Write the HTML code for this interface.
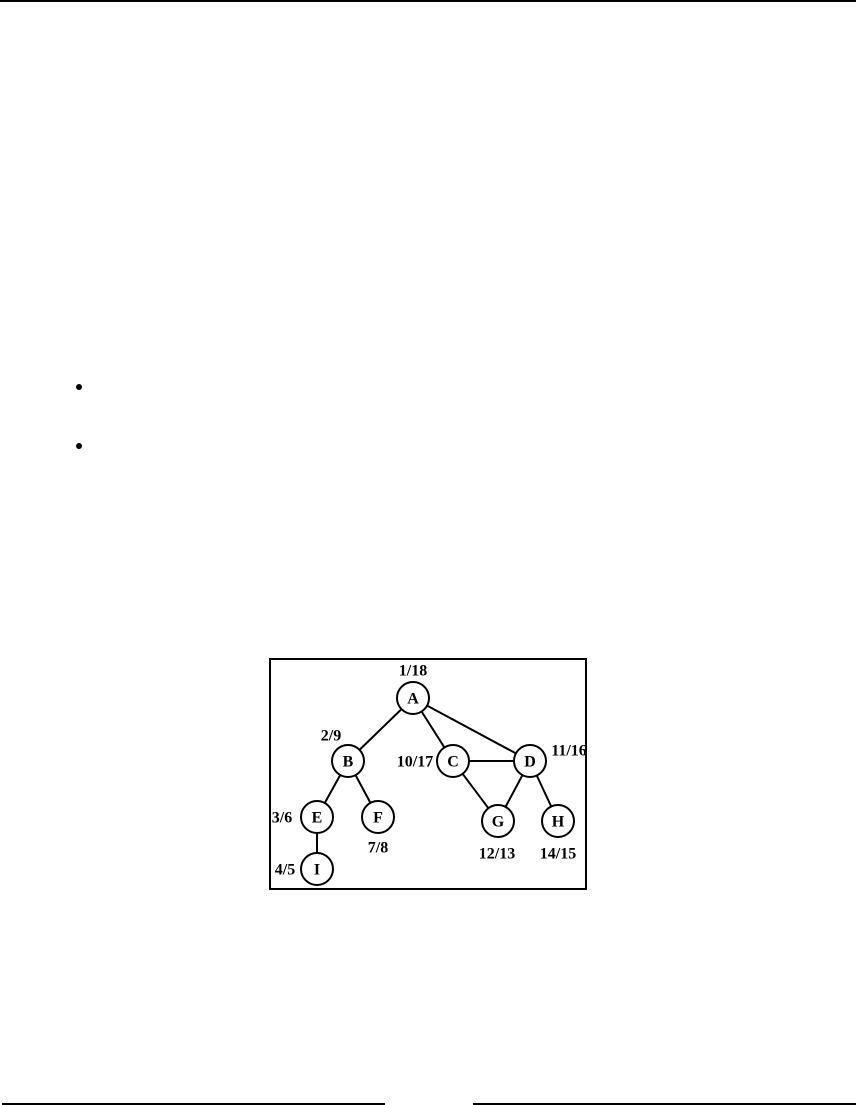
<!DOCTYPE html>
<html><head><meta charset="utf-8"><style>
html,body{margin:0;padding:0;background:#fff;}
body{width:856px;height:1105px;position:relative;overflow:hidden;font-family:"Liberation Serif",serif;}
.rule{position:absolute;background:#000;}
.bullet{position:absolute;width:6px;height:6px;border-radius:50%;background:#000;}
</style></head><body>
<div class="rule" style="left:0;top:0;width:856px;height:2px"></div>
<div class="bullet" style="left:76px;top:384px"></div>
<div class="bullet" style="left:76px;top:443px"></div>
<svg id="g" width="856" height="1105" style="position:absolute;left:0;top:0">
<rect x="270" y="659" width="316" height="230" fill="none" stroke="#000" stroke-width="2"/>
</svg>
<div class="rule" style="left:2px;top:1103px;width:383px;height:2px"></div>
<div class="rule" style="left:473px;top:1103px;width:383px;height:2px"></div>
<script>
const nodes=["A","B","C","D","E","F","G","H","I"];
const nodeX=[413,348,453,530,317,378,498,558,317];
const nodeY=[698,761,761,761,817,817,821,821,869];
const times=["1/18","2/9","10/17","11/16","3/6","7/8","12/13","14/15","4/5"];
const labelX=[413,331,415,569,282,378,497,558,285];
const labelY=[670,735,761,750,817,847,853,853,869];
const edges=[["A","B"],["A","C"],["A","D"],["B","E"],["B","F"],["C","D"],["C","G"],["D","G"],["D","H"],["E","I"]];
const R=16, NS="http://www.w3.org/2000/svg", svg=document.getElementById("g");
function mk(t,a){const e=document.createElementNS(NS,t);for(const k in a)e.setAttribute(k,a[k]);svg.appendChild(e);return e;}
edges.forEach(([a,b])=>{const i=nodes.indexOf(a),j=nodes.indexOf(b);
 const dx=nodeX[j]-nodeX[i],dy=nodeY[j]-nodeY[i],d=Math.hypot(dx,dy);
 const l=mk("line",{x1:nodeX[i]+dx/d*R,y1:nodeY[i]+dy/d*R,x2:nodeX[j]-dx/d*R,y2:nodeY[j]-dy/d*R,stroke:"#000","stroke-width":2});
 
 });
nodes.forEach((n,i)=>{
 const c=mk("circle",{cx:nodeX[i],cy:nodeY[i],r:R,fill:"#fff",stroke:"#000","stroke-width":2});
 
 
 const t=mk("text",{x:nodeX[i],y:nodeY[i]+5.5,"text-anchor":"middle","font-size":16,"font-weight":"bold","font-family":"Liberation Serif, serif"});
 t.textContent=n;
 
 
 const s=mk("text",{x:labelX[i],y:labelY[i]+5.5,"text-anchor":"middle","font-size":16,"font-weight":"bold","font-family":"Liberation Serif, serif"});
 s.textContent=times[i];
 
 
});
</script>
</body></html>
